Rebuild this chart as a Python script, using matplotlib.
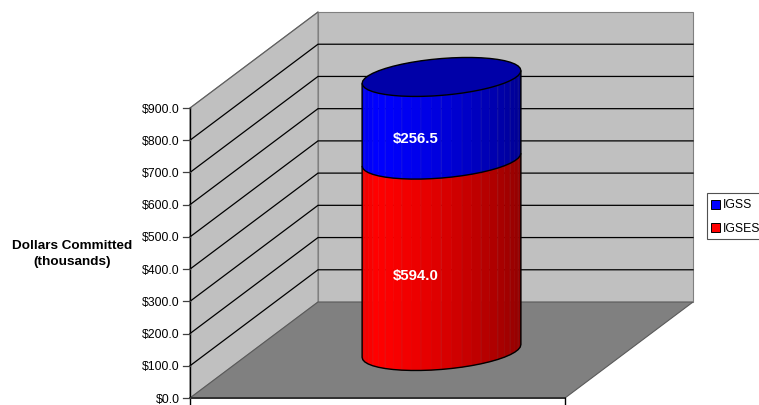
import numpy as np
import matplotlib
matplotlib.use("Agg")
import matplotlib.pyplot as plt

series_names = ["IGSES", "IGSS"]
series_values = [594.0, 256.5]
series_labels = ["$594.0", "$256.5"]
tick_values = [0, 100, 200, 300, 400, 500, 600, 700, 800, 900]
tick_labels = ["$0.0", "$100.0", "$200.0", "$300.0", "$400.0", "$500.0", "$600.0", "$700.0", "$800.0", "$900.0"]
y_title = "Dollars Committed\n(thousands)"
side_colors = [(1.0, 0.0, 0.0), (0.0, 0.0, 1.0)]
top_color = "#0000a8"

plt.rcParams['font.family'] = ['Liberation Sans', 'DejaVu Sans']
fig = plt.figure(figsize=(7.59, 4.05), dpi=100)
ax = fig.add_axes([0, 0, 1, 1])
ax.set_xlim(0, 759)
ax.set_ylim(405, 0)
ax.axis("off")

# oblique chart frame, in picture pixels
X0, Y0, FLOOR_W = 190.0, 398.0, 375.0
DX, DY = 128.0, -96.0
SCALE = (398.0 - 108.0) / 900.0


def vy(v):
    return Y0 - v * SCALE


top = max(tick_values)
ax.fill([X0, X0 + DX, X0 + DX, X0], [vy(0), vy(0) + DY, vy(top) + DY, vy(top)],
        fc="#c0c0c0", ec="#808080", lw=0.8, zorder=1)
ax.fill([X0 + DX, X0 + DX + FLOOR_W, X0 + DX + FLOOR_W, X0 + DX],
        [vy(0) + DY, vy(0) + DY, vy(top) + DY, vy(top) + DY],
        fc="#c0c0c0", ec="#808080", lw=0.8, zorder=1)
ax.fill([X0, X0 + FLOOR_W, X0 + FLOOR_W + DX, X0 + DX],
        [vy(0), vy(0), vy(0) + DY, vy(0) + DY],
        fc="#808080", ec="#5a5a5a", lw=0.8, zorder=2)

for v in tick_values[1:-1]:
    ax.plot([X0, X0 + DX, X0 + DX + FLOOR_W], [vy(v), vy(v) + DY, vy(v) + DY],
            color="black", lw=0.9, zorder=1.5, solid_joinstyle="miter")
ax.plot([X0, X0 + DX], [vy(top), vy(top) + DY], color="#606060", lw=0.8, zorder=1.5)

ax.plot([X0, X0], [vy(top), 405], color="black", lw=1.0, zorder=3)
ax.plot([X0, X0 + FLOOR_W], [Y0, Y0], color="#303030", lw=1.4, zorder=3)
ax.plot([X0 + FLOOR_W, X0 + FLOOR_W], [Y0, 405], color="black", lw=1.0, zorder=3)
for v, lab in zip(tick_values, tick_labels):
    ax.plot([X0 - 7, X0], [vy(v), vy(v)], color="#404040", lw=0.9, zorder=3)
    ax.text(X0 - 10.5, vy(v), lab, ha="right", va="center_baseline", fontsize=8.8, color="black")

ax.text(72.5, 254, y_title, ha="center", va="center", fontsize=9.7, fontweight="bold",
        linespacing=1.35, color="black")

# cylinder: a circle on the floor plane seen obliquely
CX, CY = 441.5, 351.0
A, SX, SY = 75.0, 26.0, 19.5
t = np.deg2rad(np.arange(0, 361, 7.5) + 19.1)
HALF = 24


def ring(v):
    return CX - A * np.cos(t) - SX * np.sin(t), CY - v * SCALE + SY * np.sin(t)


base = 0.0
for val, col, lab in zip(series_values, side_colors, series_labels):
    xb, yb = ring(base)
    xt, yt = ring(base + val)
    c = np.array(col)
    for i in range(HALF):
        xm = 0.5 * (xb[i] + xb[i + 1])
        f = (xm - CX + 79.5) / 159.0
        if f < 0.08:
            shade = 0.93 + f * 0.9
        else:
            shade = 1.0 - 0.42 * ((f - 0.08) / 0.92) ** 1.4
        face = c * min(shade, 1.0)
        ax.fill([xb[i], xb[i + 1], xt[i + 1], xt[i]], [yb[i], yb[i + 1], yt[i + 1], yt[i]],
                fc=face, ec=face, lw=0.3, zorder=4)
        if i % 2 == 0 and 0 < i:
            ax.plot([xb[i], xt[i]], [yb[i], yt[i]], color=tuple(0.5 * face + 0.22), lw=0.35,
                    alpha=0.45, zorder=4.1)
    ax.plot(np.r_[xt[0], xb[:HALF + 1], xt[HALF]], np.r_[yt[0], yb[:HALF + 1], yt[HALF]],
            color="black", lw=1.0, zorder=4.6, solid_joinstyle="round", solid_capstyle="butt")
    ax.text(416, CY - (base + val / 2) * SCALE + 20.5, lab, ha="center", va="center", color="white",
            fontsize=10.8, fontweight="bold", zorder=6)
    base += val

xt, yt = ring(base)
ax.fill(xt, yt, fc=top_color, ec="black", lw=1.0, zorder=5)

# legend
ax.fill([707, 762, 762, 707], [193, 193, 239, 239], fc="white", ec="#505050", lw=0.8, zorder=3)
for (name, col), y in zip(zip(series_names[::-1], side_colors[::-1]), (204, 227)):
    ax.fill([711, 719.5, 719.5, 711], [y - 4.5, y - 4.5, y + 4.5, y + 4.5], fc=col, ec="black", lw=0.7, zorder=4)
    ax.text(723, y, name, ha="left", va="center_baseline", fontsize=8.8, color="black", zorder=4)

fig.savefig("out.png", dpi=100)
